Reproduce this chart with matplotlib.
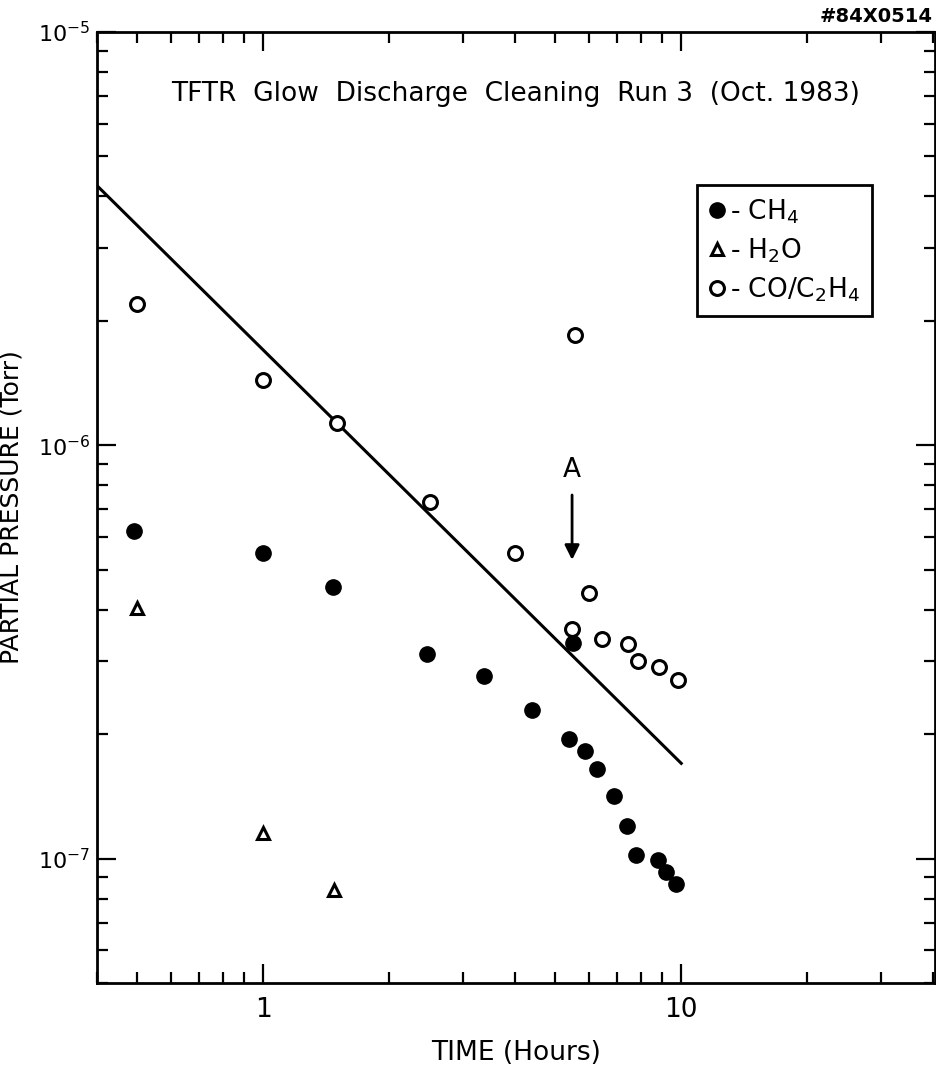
import matplotlib
matplotlib.use("Agg")
import matplotlib.pyplot as plt
from matplotlib.ticker import LogLocator, FixedLocator, FixedFormatter, NullFormatter

# CH4 (filled circles)
time_ch4 = [0.49, 1.0, 1.47, 2.46, 3.37, 4.39, 5.5, 5.4, 5.9, 6.3, 6.9, 7.4, 7.8, 8.8, 9.2, 9.7]
p_ch4 = [6.2e-7, 5.5e-7, 4.55e-7, 3.13e-7, 2.77e-7, 2.29e-7, 3.32e-7, 1.95e-7,
         1.82e-7, 1.65e-7, 1.42e-7, 1.2e-7, 1.02e-7, 9.9e-8, 9.3e-8, 8.7e-8]

# H2O (open triangles)
time_h2o = [0.5, 1.0, 1.48]
p_h2o = [4.05e-7, 1.15e-7, 8.4e-8]

# CO/C2H4 (open circles)
time_co = [0.5, 1.0, 1.5, 2.5, 4.0, 5.57, 5.47, 6.0, 6.45, 7.45, 7.9, 8.85, 9.8]
p_co = [2.2e-6, 1.44e-6, 1.13e-6, 7.3e-7, 5.5e-7, 1.85e-6, 3.6e-7, 4.4e-7,
        3.4e-7, 3.3e-7, 3.0e-7, 2.9e-7, 2.7e-7]

# straight-line fit
fit_time = [0.4, 10.0]
fit_p = [4.25e-6, 1.7e-7]

x_ticks = [1, 10]
x_tick_labels = ["1", "10"]
y_ticks = [1e-7, 1e-6, 1e-5]
y_tick_labels = [r"$\mathdefault{10^{-7}}$", r"$\mathdefault{10^{-6}}$", r"$\mathdefault{10^{-5}}$"]


def draw_chart():
    plt.rcParams['font.family'] = ['DejaVu Sans']
    fig = plt.figure(figsize=(9.37, 10.68), dpi=100)
    ax = fig.add_axes([0.1035, 0.0796, 0.8945, 0.8904])

    ax.plot(fit_time, fit_p, color='black', lw=2.2)
    h_ch4, = ax.plot(time_ch4, p_ch4, 'o', color='black', ms=11, ls='none')
    h_h2o, = ax.plot(time_h2o, p_h2o, '^', mfc='white', mec='black', mew=2.2, ms=8, ls='none')
    h_co, = ax.plot(time_co, p_co, 'o', mfc='white', mec='black', mew=2.2, ms=10, ls='none')

    ax.set_xscale('log')
    ax.set_yscale('log')
    ax.set_xlim(0.4, 40.5)
    ax.set_ylim(5e-8, 1.0e-5)

    ax.xaxis.set_major_locator(FixedLocator(x_ticks))
    ax.xaxis.set_major_formatter(FixedFormatter(x_tick_labels))
    ax.xaxis.set_minor_locator(LogLocator(base=10, subs=range(2, 10), numticks=20))
    ax.xaxis.set_minor_formatter(NullFormatter())
    ax.yaxis.set_major_locator(FixedLocator(y_ticks))
    ax.yaxis.set_major_formatter(FixedFormatter(y_tick_labels))
    ax.yaxis.set_minor_locator(LogLocator(base=10, subs=range(2, 10), numticks=20))
    ax.yaxis.set_minor_formatter(NullFormatter())

    ax.tick_params(which='both', direction='in', top=True, right=True, width=1.6)
    ax.tick_params(which='major', length=14)
    ax.tick_params(which='minor', length=8)
    ax.tick_params(axis='x', which='major', labelsize=19, pad=10)
    ax.tick_params(axis='y', which='major', labelsize=16, pad=5)
    for s in ax.spines.values():
        s.set_linewidth(2.0)

    ax.set_xlabel('TIME (Hours)', fontsize=19, labelpad=12)
    ax.set_ylabel('PARTIAL PRESSURE (Torr)', fontsize=18)
    ax.yaxis.set_label_coords(-0.088, 0.5)

    ax.text(0.5, 0.935, 'TFTR  Glow  Discharge  Cleaning  Run 3  (Oct. 1983)',
            transform=ax.transAxes, ha='center', va='center', fontsize=19)

    ax.annotate('', xy=(5.48, 5.2e-7), xytext=(5.48, 7.7e-7),
                arrowprops=dict(arrowstyle='-|>', color='black', lw=2, mutation_scale=22))
    ax.text(5.48, 8.7e-7, 'A', ha='center', va='center', fontsize=19)

    leg = ax.legend([h_ch4, h_h2o, h_co], [r'- CH$_4$', r'- H$_2$O', r'- CO/C$_2$H$_4$'],
                    loc='upper right', bbox_to_anchor=(0.925, 0.839), borderaxespad=0,
                    fontsize=19, handlelength=0.6, handletextpad=0.2, borderpad=0.45,
                    labelspacing=0.4, fancybox=False, edgecolor='black', framealpha=1)
    leg.get_frame().set_linewidth(2.0)

    fig.text(0.995, 0.993, '#84X0514', ha='right', va='top', fontsize=14, fontweight='bold')

    fig.savefig('out.png', dpi=100)


def main():
    draw_chart()


if __name__ == "__main__":
    main()
